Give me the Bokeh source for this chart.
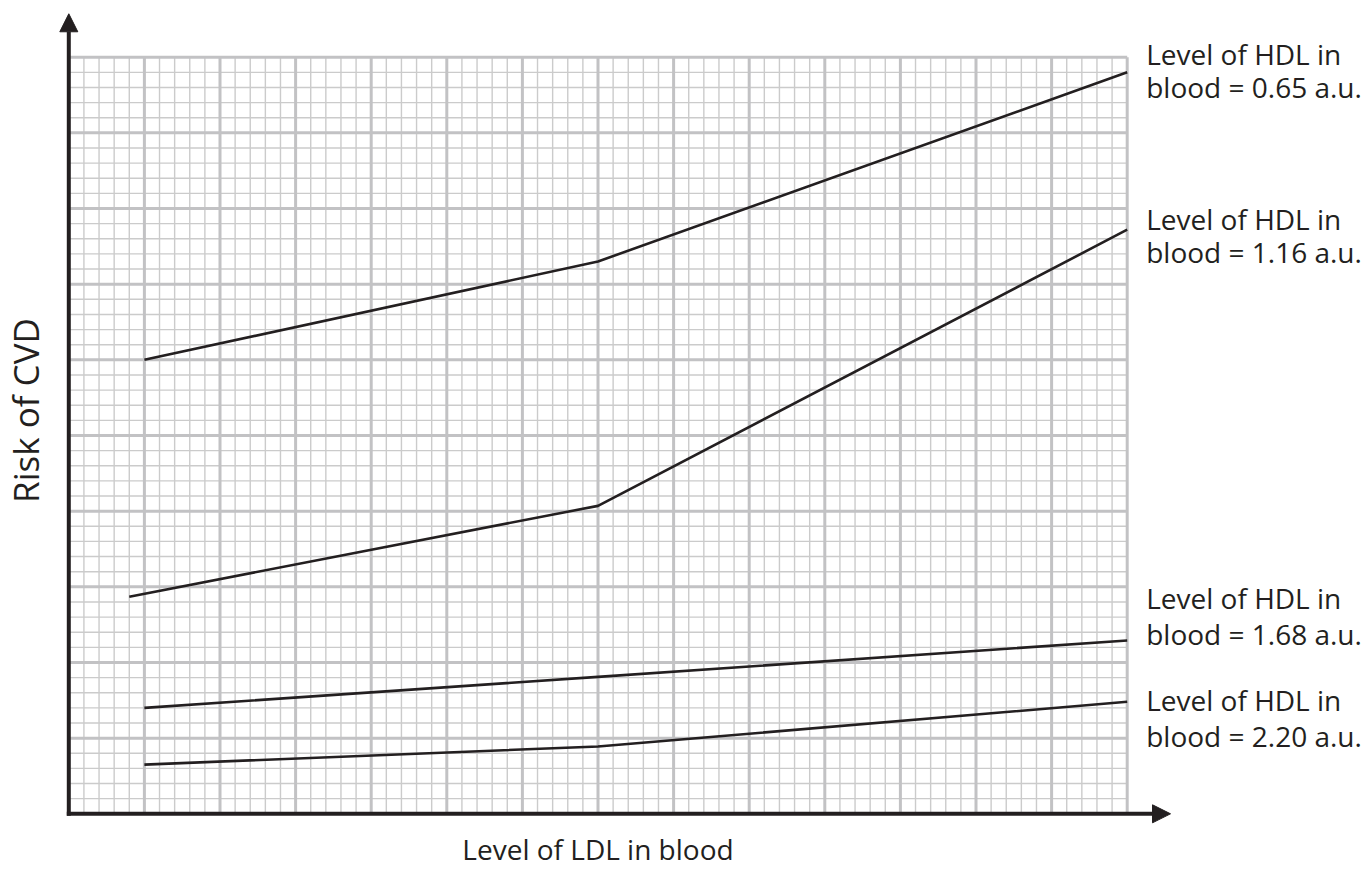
import math
from bokeh.plotting import figure
from bokeh.models import Label, Arrow, NormalHead, Range1d
from bokeh.embed import file_html
from bokeh.resources import INLINE

# ---------------- data ----------------
hdl_levels = ["0.65", "1.16", "1.68", "2.20"]
ldl_065 = [1.0, 7.0, 14.0]
risk_065 = [6.0, 7.3, 9.8]
ldl_116 = [0.8, 7.0, 14.0]
risk_116 = [2.87, 4.07, 7.72]
ldl_168 = [1.0, 7.0, 14.0]
risk_168 = [1.40, 1.81, 2.29]
ldl_220 = [1.0, 7.0, 14.0]
risk_220 = [0.65, 0.89, 1.48]
x_title = "Level of LDL in blood"
y_title = "Risk of CVD"

# grid extent (major squares) and minor subdivisions
X_MAJOR = 14
Y_MAJOR = 10
MINOR = 5

# ---------------- layout ----------------
W, H = 1372, 869
PX, PY = 75.6, 75.66          # pixels per major square
OX, OY = 68.3, 813.3           # canvas position of the origin
x_start = -OX / PX
x_end = x_start + W / PX
y_end = OY / PY
y_start = y_end - H / PY


def ypix(py):
    """data y for a canvas pixel row (used for label placement)"""
    return (OY - py) / PY


INK = "#231f20"
FONT = "Open Sans"
FS = "28px"

p = figure(width=W, height=H, x_range=Range1d(x_start, x_end),
           y_range=Range1d(y_start, y_end), output_backend="svg",
           toolbar_location=None, x_axis_type=None, y_axis_type=None,
           min_border=0, outline_line_color=None)
p.background_fill_color = "white"
p.border_fill_color = "white"

# ---------------- graph paper ----------------
minor_x = [i / MINOR for i in range(X_MAJOR * MINOR + 1) if i % MINOR]
minor_y = [i / MINOR for i in range(Y_MAJOR * MINOR + 1) if i % MINOR]
major_x = list(range(1, X_MAJOR + 1))
major_y = list(range(1, Y_MAJOR + 1))

p.segment(x0=minor_x, y0=[0] * len(minor_x), x1=minor_x, y1=[Y_MAJOR] * len(minor_x),
          line_color="#cbcbcb", line_width=1.4)
p.segment(x0=[0] * len(minor_y), y0=minor_y, x1=[X_MAJOR] * len(minor_y), y1=minor_y,
          line_color="#cbcbcb", line_width=1.4)
p.segment(x0=major_x, y0=[0] * len(major_x), x1=major_x, y1=[Y_MAJOR] * len(major_x),
          line_color="#c2c2c4", line_width=3)
p.segment(x0=[0] * len(major_y), y0=major_y, x1=[X_MAJOR] * len(major_y), y1=major_y,
          line_color="#c2c2c4", line_width=3)

# ---------------- data lines ----------------
for xs, ys in [(ldl_065, risk_065), (ldl_116, risk_116),
               (ldl_168, risk_168), (ldl_220, risk_220)]:
    p.line(xs, ys, line_color=INK, line_width=2.6)

# ---------------- axes with arrows ----------------
pad = 2 / PX
p.add_layout(Arrow(end=NormalHead(size=18, fill_color=INK, line_color=INK, line_width=1),
                   x_start=0, y_start=-2 / PY, x_end=0, y_end=Y_MAJOR + 0.574,
                   line_color=INK, line_width=4))
p.add_layout(Arrow(end=NormalHead(size=18, fill_color=INK, line_color=INK, line_width=1),
                   x_start=-pad, y_start=0, x_end=X_MAJOR + 0.573, y_end=0,
                   line_color=INK, line_width=4))

# ---------------- series labels (visual centre rows of each text line) ----------------
label_rows = [(53, 86), (218, 251), (597, 633), (699, 735)]
for lvl, (r1, r2) in zip(hdl_levels, label_rows):
    p.add_layout(Label(x=X_MAJOR, y=ypix(r1), x_offset=19, text="Level of HDL in",
                       text_font=FONT, text_font_size=FS, text_color=INK,
                       text_baseline="middle"))
    p.add_layout(Label(x=X_MAJOR, y=ypix(r2), x_offset=19, text=f"blood = {lvl} a.u.",
                       text_font=FONT, text_font_size=FS, text_color=INK,
                       text_baseline="middle"))

# ---------------- axis titles ----------------
p.add_layout(Label(x=X_MAJOR / 2, y=ypix(848), text=x_title, text_align="center",
                   text_baseline="middle", text_font=FONT,
                   text_font_size=FS, text_color=INK))
p.add_layout(Label(x=(25 - OX) / PX, y=ypix(410), text=y_title, angle=math.pi / 2,
                   text_align="center", text_baseline="middle",
                   text_font=FONT, text_font_size="35px", text_color=INK))

open("out.html", "w").write(file_html(p, INLINE))
